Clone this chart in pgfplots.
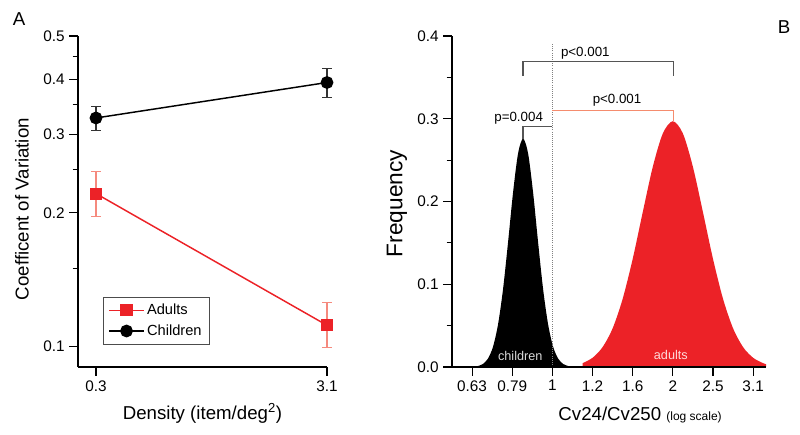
\documentclass[border=0pt]{standalone}
\usepackage{pgfplots}
\pgfplotsset{compat=1.18}
\usepackage{fontspec}
\setmainfont{Liberation Sans}
\definecolor{myred}{HTML}{EC2227}
\definecolor{errred}{HTML}{F58A7E}
\definecolor{brorange}{HTML}{F58C6E}
\definecolor{brgray}{HTML}{555555}
\begin{document}
\begin{tikzpicture}
\useasboundingbox (0,0) rectangle (600pt,326.25pt);
\pgfplotsset{
  common/.style={
    scale only axis,
    axis lines=left,
    axis line style={-, line width=0.9pt},
    tick align=outside,
    xtick pos=left, ytick pos=left,
    major tick length=6.5pt,
    minor tick length=4pt,
    every tick/.style={black, line width=0.8pt},
    tick label style={font=\fontsize{11.5}{13}\selectfont},
    /pgf/number format/assume math mode=true,
    label style={font=\fontsize{14}{16}\selectfont},
    clip=false,
  }
}
% Panel A
\begin{axis}[common,
  at={(58.5pt,51pt)}, anchor=south west,
  width=186.75pt, height=248.25pt,
  xmin=0.082, xmax=3.1,
  ymode=log, ymin=0.09, ymax=0.5,
  xtick={0.3,3.1}, xticklabels={0.3,3.1},
  ytick={0.1,0.2,0.3,0.4,0.5}, yticklabels={0.1,0.2,0.3,0.4,0.5},
  minor ytick={0.15,0.25,0.35,0.45},
  xlabel={Density (item/deg\textsuperscript{2})},
  ylabel={Coefficent of Variation},
  xlabel style={at={(axis description cs:0.5,-0.139)}, anchor=center},
  ylabel style={at={(axis description cs:-0.225,0.477)}, anchor=center, rotate=0},
  legend style={at={(axis description cs:0.1004,0.2115)}, anchor=north west,
    draw=gray!60!black, line width=0.6pt, font=\fontsize{11}{13}\selectfont,
    row sep=2pt, inner xsep=4pt, inner ysep=3pt},
  legend cell align=left,
  legend image code/.code={\draw[mark repeat=2,mark phase=2] plot coordinates {(0cm,0cm)(0.45cm,0cm)(0.9cm,0cm)};},
]
\addplot[myred, line width=1.1pt, mark=square*, mark size=4pt, mark options={solid, fill=myred, draw=myred},
  error bars/.cd, y dir=both, y explicit,
  error bar style={errred, line width=0.8pt},
  error mark options={errred, line width=0.8pt, mark size=3.5pt, rotate=90}]
  coordinates {(0.3,0.221) += (0,0.027) -= (0,0.025)
               (3.1,0.1117) += (0,0.014) -= (0,0.012)};
\addlegendentry{Adults}
\addplot[black, line width=1.1pt, mark=*, mark size=4.25pt, mark options={solid, fill=black},
  error bars/.cd, y dir=both, y explicit,
  error bar style={black!80, line width=0.8pt},
  error mark options={black!80, line width=0.8pt, mark size=3.5pt, rotate=90}]
  coordinates {(0.3,0.327) += (0,0.020) -= (0,0.021)
               (3.1,0.393) += (0,0.029) -= (0,0.030)};
\addlegendentry{Children}
\end{axis}
\node[font=\fontsize{14}{16}\selectfont] at (14.25pt,312pt) {A};
% Panel B
\begin{axis}[common,
  at={(339pt,51pt)}, anchor=south west,
  width=235.5pt, height=248.25pt,
  xmin=-0.25, xmax=0.532,
  ymin=0, ymax=0.4,
  xtick={-0.2,-0.1,0,0.1,0.2,0.3,0.4,0.5},
  xticklabels={0.63,0.79,1,1.2,1.6,2,2.5,3.1},
  ytick={0,0.1,0.2,0.3,0.4}, yticklabels={0.0,0.1,0.2,0.3,0.4},
  minor ytick={0.05,0.15,0.25,0.35},
  xlabel={Cv24/Cv250 {\fontsize{9}{11}\selectfont (log scale)}},
  ylabel={Frequency},
  xlabel style={at={(axis description cs:0.599,-0.145)}, anchor=center},
  ylabel style={at={(axis description cs:-0.175,0.494)}, anchor=center, rotate=0, font=\fontsize{17}{19}\selectfont},
  axis on top,
]
\addplot[fill=black, draw=none, smooth] coordinates {
(-0.1855,0.0012) (-0.173,0.0036) (-0.1605,0.0101) (-0.148,0.0242) (-0.1355,0.0510)
(-0.123,0.0936) (-0.1105,0.1502) (-0.098,0.2106) (-0.0855,0.2580) (-0.073,0.276)
(-0.0605,0.2580) (-0.048,0.2106) (-0.0355,0.1502) (-0.023,0.0936) (-0.0105,0.0510)
(0.002,0.0242) (0.0145,0.0101) (0.027,0.0036) (0.0395,0.0012)} \closedcycle;
\addplot[fill=myred, draw=none, smooth] coordinates {
(0.075,0.0046) (0.1,0.0111) (0.125,0.024) (0.15,0.0467) (0.175,0.0823) (0.2,0.1306)
(0.225,0.187) (0.25,0.2418) (0.275,0.2822) (0.3,0.297) (0.325,0.2822) (0.35,0.2418)
(0.375,0.187) (0.4,0.1306) (0.425,0.0823) (0.45,0.0467) (0.475,0.024) (0.5,0.0111)
(0.525,0.0046) (0.532,0.0035)} \closedcycle;
\draw[densely dotted, gray, line width=0.6pt] (axis cs:0,0) -- (axis cs:0,0.3916);
% brackets
\draw[brgray, line width=0.9pt] (axis cs:-0.073,0.352) -- (axis cs:-0.073,0.3687) -- (axis cs:0.302,0.3687) -- (axis cs:0.302,0.352);
\node[font=\fontsize{10}{12}\selectfont] at (axis cs:0.082,0.379) {p<0.001};
\draw[brorange, line width=0.9pt] (axis cs:0,0.3096) -- (axis cs:0.302,0.3096) -- (axis cs:0.302,0.297);
\node[font=\fontsize{10}{12}\selectfont] at (axis cs:0.161,0.322) {p<0.001};
\draw[brgray, line width=0.9pt] (axis cs:-0.073,0.276) -- (axis cs:-0.073,0.2907) -- (axis cs:0,0.2907);
\node[font=\fontsize{10}{12}\selectfont] at (axis cs:-0.084,0.301) {p=0.004};
\node[font=\fontsize{9.5}{11}\selectfont, text=gray!30] at (axis cs:-0.08,0.013) {children};
\node[font=\fontsize{9.5}{11}\selectfont, text=white!85!red] at (axis cs:0.295,0.0145) {adults};
\end{axis}
\node[font=\fontsize{14}{16}\selectfont] at (588pt,306pt) {B};
\end{tikzpicture}
\end{document}
